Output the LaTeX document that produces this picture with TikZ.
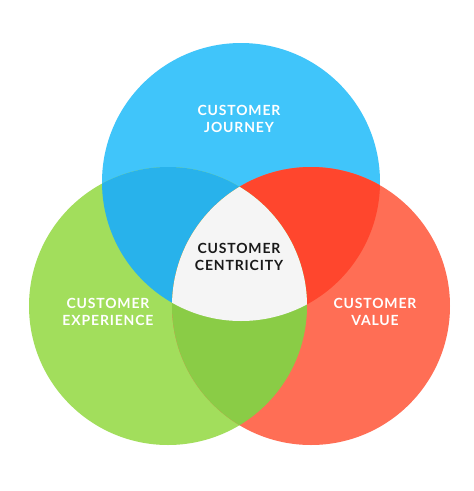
\documentclass[tikz,border=0pt]{standalone}
\usepackage{fontspec}
\setmainfont{Lato}
\newfontfamily\labelfont[LetterSpace=6]{Lato Bold}
\definecolor{cblue}{RGB}{64,197,250}
\definecolor{cbluegreen}{RGB}{40,178,235}
\definecolor{cgreen}{RGB}{162,222,92}
\definecolor{cgreenred}{RGB}{138,204,70}
\definecolor{cred}{RGB}{255,110,85}
\definecolor{credblue}{RGB}{255,70,45}
\definecolor{ccenter}{RGB}{245,245,245}
\definecolor{cdark}{RGB}{25,25,25}
\tikzset{
  lbl/.style={font=\labelfont\fontsize{14}{17}\selectfont, align=center, text=white, inner sep=0pt},
  centerlbl/.style={lbl, text=cdark}
}
\begin{document}
\begin{tikzpicture}[x=1pt,y=-1pt]
\useasboundingbox (0,0) rectangle (474,491);
\fill[white] (0,0) rectangle (474,491);
\def\R{139}
\coordinate (cb) at (241,182);
\coordinate (cg) at (168,306);
\coordinate (cr) at (311,306);
% base circles
\fill[cblue] (cb) circle[radius=\R];
\fill[cgreen] (cg) circle[radius=\R];
\fill[cred] (cr) circle[radius=\R];
% pairwise overlaps
\begin{scope}
  \clip (cb) circle[radius=\R];
  \fill[cbluegreen] (cg) circle[radius=\R];
\end{scope}
\begin{scope}
  \clip (cb) circle[radius=\R];
  \fill[credblue] (cr) circle[radius=\R];
\end{scope}
\begin{scope}
  \clip (cg) circle[radius=\R];
  \fill[cgreenred] (cr) circle[radius=\R];
\end{scope}
% triple overlap
\begin{scope}
  \clip (cb) circle[radius=\R];
  \clip (cg) circle[radius=\R];
  \fill[ccenter] (cr) circle[radius=\R];
\end{scope}
% labels
\node[lbl] (journey) at (239,119) {CUSTOMER\\JOURNEY};
\node[centerlbl] (centricity) at (239,257) {CUSTOMER\\CENTRICITY};
\node[lbl] (experience) at (108,312) {CUSTOMER\\EXPERIENCE};
\node[lbl] (value) at (375,312) {CUSTOMER\\VALUE};
\end{tikzpicture}
\end{document}
